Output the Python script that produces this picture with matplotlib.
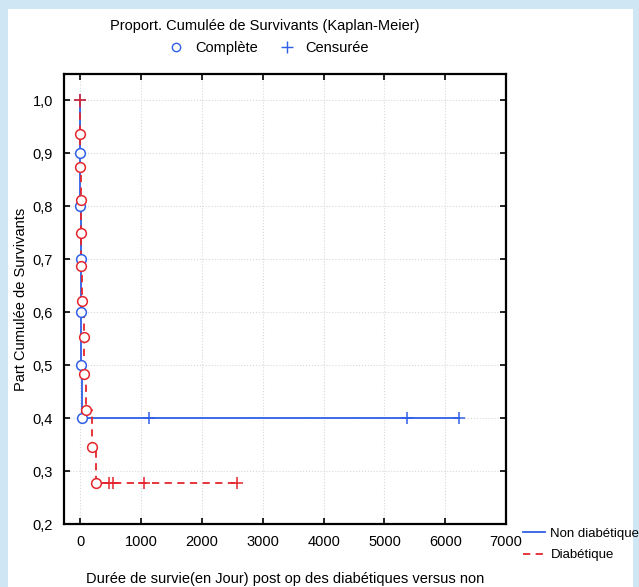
import matplotlib.pyplot as plt
import numpy as np
from matplotlib.lines import Line2D
from matplotlib.patches import Rectangle

plt.rcParams['font.family'] = ['Liberation Sans', 'DejaVu Sans']

# Non diabetique: deaths then censored cases
blue_t = [1, 2, 3, 8, 10, 25]
blue_s = [0.9, 0.8, 0.7, 0.6, 0.5, 0.4]
blue_cens = [1130, 5370, 6230]

# Diabetique
red_t = [1, 2, 3, 4, 15, 30, 60, 65, 90, 190, 260]
red_s = [0.9375, 0.875, 0.8125, 0.75, 0.6875, 0.622, 0.553, 0.484, 0.415, 0.346, 0.277]
red_cens = [470, 540, 1050, 2580]

blue = '#2f5fe6'
red = '#e4262c'

fig = plt.figure(figsize=(6.39, 5.87), dpi=100)
fig.patch.set_facecolor('#cfe7f5')
fig.patches.append(Rectangle((0.012, 0.0), 0.978, 0.985, transform=fig.transFigure,
                             facecolor='white', edgecolor='none', zorder=-5))
ax = fig.add_axes([0.100, 0.107, 0.692, 0.767])


def km(ax, t, s, cens, color, ls):
    st = s[-1]
    xs = [0] + t + [max(cens)]
    ys = [1.0] + s + [st]
    ax.step(xs, ys, where='post', color=color, ls=ls, lw=1.3, zorder=3)
    ax.plot(t, s, 'o', mfc='white', mec=color, ms=7, mew=1.1, zorder=4)
    ax.plot(cens, [st] * len(cens), '+', color=color, ms=9, mew=1.1, zorder=4)
    ax.plot([0], [1.0], '+', color=color, ms=9, mew=1.1, zorder=4)


km(ax, blue_t, blue_s, blue_cens, blue, '-')
km(ax, red_t, red_s, red_cens, red, (0, (4, 3)))

ax.set_xlim(-270, 7000)
ax.set_ylim(0.2, 1.05)
ax.set_xticks(np.arange(0, 7001, 1000))
ax.set_yticks(np.arange(0.2, 1.01, 0.1))
ax.set_yticklabels(['0,2', '0,3', '0,4', '0,5', '0,6', '0,7', '0,8', '0,9', '1,0'])
ax.tick_params(direction='in', top=True, right=True, labelsize=10.5, length=4, width=1.2, pad=8)
ax.grid(True, color='#d8d8d8', ls=':', lw=0.8)
for sp in ax.spines.values():
    sp.set_linewidth(1.6)

ax.set_xlabel('Durée de survie(en Jour) post op des diabétiques versus non', fontsize=10.5, labelpad=16)
ax.set_ylabel('Part Cumulée de Survivants', fontsize=10.5, labelpad=3)

fig.text(0.415, 0.955, 'Proport. Cumulée de Survivants (Kaplan-Meier)', ha='center', va='center', fontsize=10.5)
h_top = [Line2D([], [], ls='none', marker='o', mfc='white', mec=blue, ms=6),
         Line2D([], [], ls='none', marker='+', color=blue, ms=9)]
fig.legend(h_top, ['Complète', 'Censurée'], loc='center', bbox_to_anchor=(0.415, 0.918),
           ncol=2, frameon=False, fontsize=10.5, handletextpad=0.3, columnspacing=1.0)

h_bot = [Line2D([], [], color=blue, lw=1.3), Line2D([], [], color=red, lw=1.3, ls=(0, (4, 3)))]
fig.legend(h_bot, ['Non diabétique', 'Diabétique'], loc='upper left', bbox_to_anchor=(0.818, 0.101),
           frameon=False, fontsize=9.5, handlelength=1.7, handletextpad=0.4, labelspacing=0.7,
           borderaxespad=0, borderpad=0)

fig.savefig('out.png', dpi=100)
